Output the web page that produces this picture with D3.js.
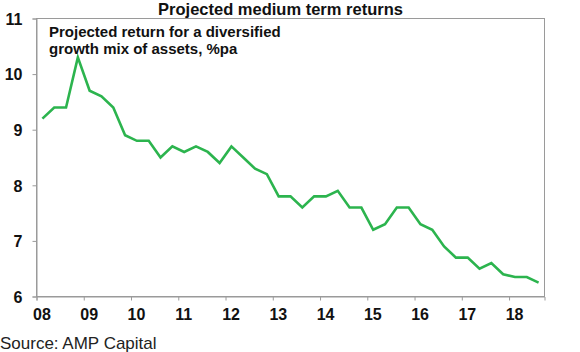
<!DOCTYPE html>
<html>
<head>
<meta charset="utf-8">
<script src="https://cdn.jsdelivr.net/npm/d3@7"></script>
<style>
  html, body { margin: 0; padding: 0; background: #fff; }
  svg { display: block; font-family: "Liberation Sans", Arial, sans-serif; }
</style>
</head>
<body>
<svg id="chart" width="580" height="352"></svg>
<script>
// Data: quarterly projected return (%pa), starting Q1 2008
const startYear = 2008;
const values = [
  9.2, 9.4, 9.4, 10.3, 9.7, 9.6, 9.4, 8.9, 8.8, 8.8,
  8.5, 8.7, 8.6, 8.7, 8.6, 8.4, 8.7, 8.5, 8.3, 8.2,
  7.8, 7.8, 7.6, 7.8, 7.8, 7.9, 7.6, 7.6, 7.2, 7.3,
  7.6, 7.6, 7.3, 7.2, 6.9, 6.7, 6.7, 6.5, 6.6, 6.4,
  6.35, 6.35, 6.25
];
const xTickYears = [2008, 2009, 2010, 2011, 2012, 2013, 2014, 2015, 2016, 2017, 2018];
const xTickLabels = ["08", "09", "10", "11", "12", "13", "14", "15", "16", "17", "18"];
const yTicks = [6, 7, 8, 9, 10, 11];
const title = "Projected medium term returns";
const noteLines = ["Projected return for a diversified", "growth mix of assets, %pa"];
const source = "Source: AMP Capital";

(function () {
const svg = d3.select("#chart");
const pLeft = 36.5, pRight = 544.5, pTop = 18.5, pBottom = 296.5;

const x = d3.scaleLinear().domain([startYear, startYear + 10.75]).range([pLeft, pRight]);
const y = d3.scaleLinear().domain([6, 11]).range([pBottom, pTop]);

// Plot box
svg.append("rect")
  .attr("x", pLeft).attr("y", pTop)
  .attr("width", pRight - pLeft).attr("height", pBottom - pTop)
  .attr("fill", "none").attr("stroke", "#9a9a9a").attr("stroke-width", 1);

// Y axis
const yAxis = d3.axisLeft(y).tickValues(yTicks).tickSize(4).tickPadding(10).tickFormat(d3.format("d"));
const gy = svg.append("g").attr("transform", `translate(${pLeft},0)`).call(yAxis);
gy.select(".domain").attr("stroke", "#9a9a9a");
gy.selectAll(".tick line").attr("stroke", "#9a9a9a");
gy.selectAll(".tick text")
  .attr("font-family", "Liberation Sans, Arial, sans-serif")
  .attr("font-size", 16).attr("font-weight", "bold").attr("fill", "#111")
  .attr("dy", "0.36em");

// X axis
const xAxis = d3.axisBottom(x).tickValues(xTickYears).tickSize(4).tickPadding(0)
  .tickFormat((d, i) => xTickLabels[i]);
const gx = svg.append("g").attr("transform", `translate(0,${pBottom})`).call(xAxis);
gx.select(".domain").attr("stroke", "#9a9a9a");
gx.selectAll(".tick line").attr("stroke", "#9a9a9a");
gx.selectAll(".tick text")
  .attr("font-family", "Liberation Sans, Arial, sans-serif")
  .attr("font-size", 16).attr("font-weight", "bold").attr("fill", "#111")
  .attr("x", 5).attr("y", 23.5).attr("dy", 0);

// Line
const line = d3.line()
  .x((d, i) => x(startYear + (i + 0.5) / 4))
  .y(d => y(d));
svg.append("path")
  .datum(values)
  .attr("d", line)
  .attr("fill", "none")
  .attr("stroke", "#2cb44e")
  .attr("stroke-width", 2.6)
  .attr("stroke-linejoin", "miter");

// Title
svg.append("text")
  .attr("x", 280.5).attr("y", 14.5)
  .attr("text-anchor", "middle")
  .attr("font-size", 16.5).attr("font-weight", "bold").attr("fill", "#111")
  .text(title);

// Note
svg.append("text")
  .attr("x", 49).attr("y", 37)
  .attr("font-size", 15).attr("font-weight", "bold").attr("fill", "#111")
  .selectAll("tspan").data(noteLines).join("tspan")
  .attr("x", 49).attr("dy", (d, i) => i === 0 ? 0 : 16.5)
  .text(d => d);

// Source
svg.append("text")
  .attr("x", 0).attr("y", 349)
  .attr("font-size", 17).attr("fill", "#222")
  .text(source);
})();
</script>
</body>
</html>
